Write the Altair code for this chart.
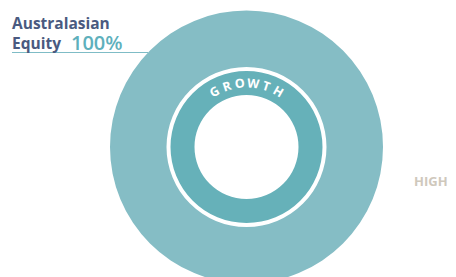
import math
import altair as alt
import pandas as pd

# data
outer_categories = ["Australasian Equity"]
outer_values = [100]
inner_categories = ["Growth"]
inner_values = [100]
ring_letters = ["G", "R", "O", "W", "T", "H"]
letter_degrees = [330, 342, 354, 6, 18, 30]

CX, CY = 238.5, 139

outer_df = pd.DataFrame({"cat": outer_categories, "value": outer_values})
inner_df = pd.DataFrame({"cat": inner_categories, "value": inner_values})
letters_df = pd.DataFrame({"ch": ring_letters, "deg": letter_degrees})

outer = alt.Chart(outer_df).mark_arc(outerRadius=136.5, innerRadius=80).encode(
    theta=alt.Theta("value:Q", stack=True),
    color=alt.Color("cat:N", scale=alt.Scale(domain=outer_categories, range=["#85BDC5"]), legend=None),
    x=alt.value(CX), y=alt.value(CY),
)

inner = alt.Chart(inner_df).mark_arc(outerRadius=76, innerRadius=52).encode(
    theta=alt.Theta("value:Q", stack=True),
    color=alt.value("#66B1B9"),
    x=alt.value(CX), y=alt.value(CY),
)

letters = alt.Chart(letters_df).mark_text(
    radius=63.5, font="Open Sans", fontWeight="bold", fontSize=12.5, color="white",
    baseline="middle", align="center",
).encode(
    theta=alt.Theta("deg:Q", scale=alt.Scale(domain=[0, 360], range=[0, 2 * math.pi])),
    angle=alt.Angle("deg:Q", scale=None),
    text="ch:N",
    x=alt.value(CX), y=alt.value(CY),
)

line = alt.Chart(outer_df).mark_rule(color="#7FBCC6", strokeWidth=1.2).encode(
    x=alt.value(4), x2=alt.value(140), y=alt.value(44.5),
)

t1 = alt.Chart(outer_df).mark_text(
    text="Australasian", font="Open Sans", fontWeight="bold", fontSize=15.5,
    color="#4A5A80", align="left", baseline="alphabetic",
).encode(x=alt.value(4), y=alt.value(20.5))

t2 = alt.Chart(outer_df).mark_text(
    text="Equity", font="Open Sans", fontWeight="bold", fontSize=15.5,
    color="#4A5A80", align="left", baseline="alphabetic",
).encode(x=alt.value(4), y=alt.value(41))

t3 = alt.Chart(outer_df).transform_calculate(lbl="format(datum.value, 'd') + '%'").mark_text(
    font="Open Sans", fontWeight=600, fontSize=20,
    color="#5EB0BC", align="left", baseline="alphabetic",
).encode(x=alt.value(63), y=alt.value(41.5), text="lbl:N")

t4 = alt.Chart(outer_df).mark_text(
    text="HIGH", font="Open Sans", fontWeight="bold", fontSize=13,
    color="#CFC8BC", align="left", baseline="alphabetic",
).encode(x=alt.value(406), y=alt.value(178))

chart = alt.layer(outer, inner, letters, line, t1, t2, t3, t4).resolve_scale(
    theta="independent"
).properties(
    width=440, height=269, autosize=alt.AutoSizeParams(type="none"), padding=0,
).configure_view(stroke=None)

chart.save("out.html", embed_options={"renderer": "svg", "actions": False})
